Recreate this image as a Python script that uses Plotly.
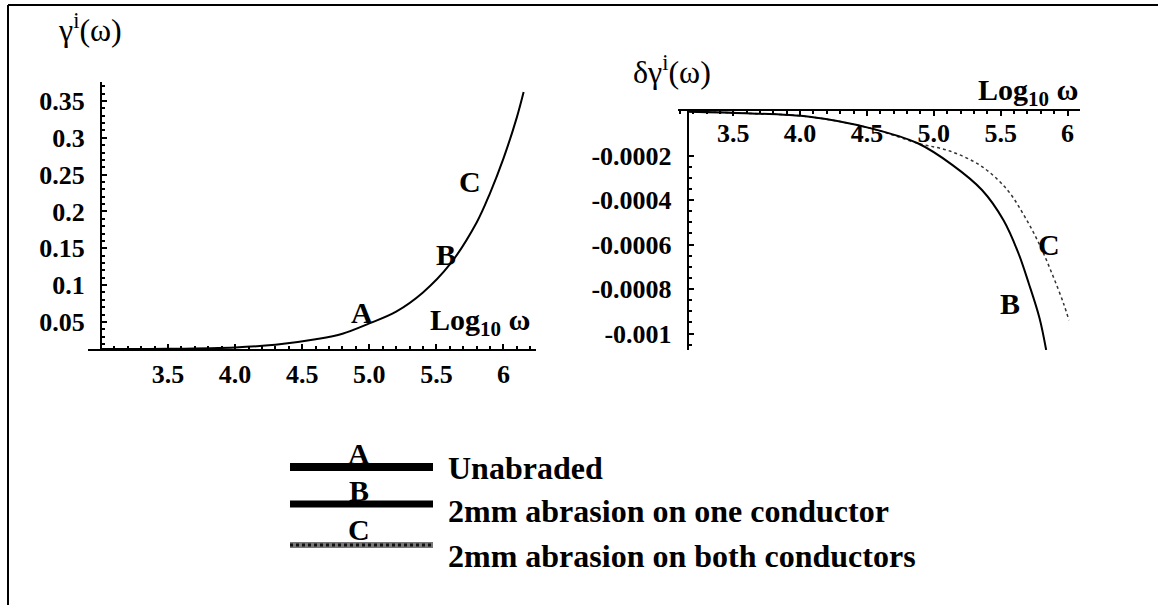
import plotly.graph_objects as go

# ---------------- data ----------------
# left panel: gamma^i(omega) vs log10(omega) (curves A, B, C coincide)
gam_x = [3.0, 3.5, 4.0, 4.3, 4.6, 4.8, 5.0, 5.2, 5.4, 5.6, 5.8, 5.9, 6.0, 6.1, 6.15]
gam_y = [0.0133, 0.0137, 0.0155, 0.019, 0.0265, 0.034, 0.048, 0.064, 0.090, 0.128, 0.185, 0.225, 0.272, 0.328, 0.362]

# right panel: delta gamma^i(omega), curve B (solid) and C (dotted)
dB_x = [3.17, 3.59, 4.07, 4.53, 4.88, 5.14, 5.36, 5.52, 5.63, 5.71, 5.79, 5.84]
dB_y = [-0.000003, -0.000010, -0.000026, -0.000078, -0.000145, -0.000243,
        -0.000355, -0.000490, -0.000635, -0.000775, -0.000930, -0.001074]
dC_x = [3.17, 3.59, 4.07, 4.53, 4.88, 5.12, 5.36, 5.55, 5.68, 5.79, 5.89, 5.97, 6.01]
dC_y = [-0.000003, -0.000010, -0.000026, -0.000078, -0.000145, -0.000180, -0.000250,
        -0.000355, -0.000475, -0.000600, -0.000740, -0.000865, -0.000940]

x_tickvals = [3.5, 4.0, 4.5, 5.0, 5.5, 6.0]
x_ticktext = ["3.5", "4.0", "4.5", "5.0", "5.5", "6"]
gam_tickvals = [0.05, 0.1, 0.15, 0.2, 0.25, 0.3, 0.35]
gam_ticktext = ["0.05", "0.1", "0.15", "0.2", "0.25", "0.3", "0.35"]
d_tickvals = [-0.0002, -0.0004, -0.0006, -0.0008, -0.001]
d_ticktext = ["-0.0002", "-0.0004", "-0.0006", "-0.0008", "-0.001"]

legend_letters = ["A", "B", "C"]
legend_labels = ["Unabraded", "2mm abrasion on one conductor", "2mm abrasion on both conductors"]

# ---------------- layout geometry ----------------
W, H = 1158, 605
L_xrange = [2.9, 6.24]
L_yrange = [0.0133, 0.3757]
L_origin_x = 3.0
R_xrange = [3.086, 6.09]
R_yrange = [-0.001074, 0.0]
R_origin_x = 3.16

def px(x):
    return x / W

def py(y):
    return 1 - y / H

L_xdom = [px(87.5), px(535.7)]
L_ydom = [py(349), py(82)]
R_xdom = [px(677.9), px(1079.6)]
R_ydom = [py(350), py(111)]

L_ypos = L_xdom[0] + (L_origin_x - L_xrange[0]) / (L_xrange[1] - L_xrange[0]) * (L_xdom[1] - L_xdom[0])
R_ypos = R_xdom[0] + (R_origin_x - R_xrange[0]) / (R_xrange[1] - R_xrange[0]) * (R_xdom[1] - R_xdom[0])

SERIF = "Liberation Serif"
tickfont = dict(family=SERIF, size=26, color="black", weight="bold")

fig = go.Figure()

fig.add_trace(go.Scatter(x=gam_x, y=gam_y, mode="lines", line=dict(color="black", width=2, shape="spline"),
                         xaxis="x", yaxis="y", showlegend=False, cliponaxis=False))
fig.add_trace(go.Scatter(x=dC_x, y=dC_y, mode="lines", line=dict(color="#333", width=1.5, dash="dot", shape="spline"),
                         xaxis="x2", yaxis="y2", showlegend=False))
fig.add_trace(go.Scatter(x=dB_x, y=dB_y, mode="lines", line=dict(color="black", width=2, shape="spline"),
                         xaxis="x2", yaxis="y2", showlegend=False))

common_x = dict(tickvals=x_tickvals, ticktext=x_ticktext, tickfont=tickfont, showgrid=False, zeroline=False,
                showline=True, linecolor="black", linewidth=2, ticks="inside", ticklen=5, tickcolor="black",
                tickwidth=1.5)

fig.update_layout(
    width=W, height=H, margin=dict(l=0, r=0, t=0, b=0),
    paper_bgcolor="white", plot_bgcolor="rgba(0,0,0,0)",
    xaxis=dict(domain=L_xdom, range=L_xrange, anchor="y", side="bottom", ticklabelstandoff=1,
               minor=dict(dtick=0.1, tick0=3.0, ticks="inside", ticklen=3, tickcolor="black"), **common_x),
    yaxis=dict(domain=L_ydom, range=L_yrange, anchor="free", position=L_ypos,
               tickvals=gam_tickvals, ticktext=gam_ticktext, tickfont=tickfont, showgrid=False, zeroline=False,
               showline=True, linecolor="black", linewidth=2, ticks="inside", ticklen=5, tickcolor="black",
               tickwidth=1.5, ticklabelstandoff=10,
               minor=dict(dtick=0.01, tick0=0, ticks="inside", ticklen=3, tickcolor="black")),
    xaxis2=dict(domain=R_xdom, range=R_xrange, anchor="y2", side="top", ticklabelposition="inside",
                ticklabelstandoff=10,
                minor=dict(dtick=0.1, tick0=3.0, ticks="inside", ticklen=3, tickcolor="black"), **common_x),
    yaxis2=dict(domain=R_ydom, range=R_yrange, anchor="free", position=R_ypos,
                tickvals=d_tickvals, ticktext=d_ticktext, tickfont=tickfont, showgrid=False, zeroline=False,
                showline=True, linecolor="black", linewidth=2, ticks="inside", ticklen=5, tickcolor="black",
                tickwidth=1.5, ticklabelstandoff=10,
                minor=dict(dtick=0.00005, tick0=0, ticks="inside", ticklen=3, tickcolor="black")),
)

letter_font = dict(family=SERIF, size=30, color="black", weight="bold")
legend_font = dict(family=SERIF, size=32, color="black", weight="bold")
title_font = dict(family=SERIF, size=32, color="black")

def A(x, y, text, font, xref="paper", yref="paper", xanchor="center", yanchor="middle"):
    return dict(x=x, y=y, xref=xref, yref=yref, text=text, showarrow=False, font=font,
                xanchor=xanchor, yanchor=yanchor)

ann = []
# curve labels (data coordinates)
ann += [
    A(4.945, 0.0622, "A", letter_font, "x", "y"),
    A(5.570, 0.1409, "B", letter_font, "x", "y"),
    A(5.749, 0.2400, "C", letter_font, "x", "y"),
    A(5.864, -0.000602, "C", letter_font, "x2", "y2"),
    A(5.572, -0.000863, "B", letter_font, "x2", "y2"),
]
# axis labels and titles (paper coordinates)
ann += [
    A(px(480), py(322), "Log<sub>10</sub> ω", letter_font),
    A(px(1028), py(92), "Log<sub>10</sub> ω", letter_font),
    A(px(90), py(28), "γ<sup>i</sup>(ω)", title_font),
    A(px(672), py(70), "δγ<sup>i</sup>(ω)", title_font),
]

# legend block
line_y = [467, 504, 545]
letter_y = [453, 490, 529]
text_y = [468, 511, 556]
shapes = []
for i in range(3):
    if i < 2:
        shapes.append(dict(type="line", xref="paper", yref="paper", x0=px(290), x1=px(433),
                           y0=py(line_y[i]), y1=py(line_y[i]), line=dict(color="black", width=8 - i)))
    else:
        shapes.append(dict(type="line", xref="paper", yref="paper", x0=px(290), x1=px(433),
                           y0=py(line_y[i]), y1=py(line_y[i]), line=dict(color="#777", width=6)))
        shapes.append(dict(type="line", xref="paper", yref="paper", x0=px(290), x1=px(433),
                           y0=py(line_y[i]), y1=py(line_y[i]), line=dict(color="#111", width=3, dash="dot")))
    ann.append(A(px(359), py(letter_y[i]), legend_letters[i], letter_font))
    ann.append(A(px(446), py(text_y[i]), legend_labels[i], legend_font, xanchor="left"))

# frame
shapes.append(dict(type="line", xref="paper", yref="paper", x0=px(8), x1=1, y0=py(5), y1=py(5),
                   line=dict(color="black", width=2)))
shapes.append(dict(type="line", xref="paper", yref="paper", x0=px(8), x1=px(8), y0=py(5), y1=0,
                   line=dict(color="black", width=2)))

fig.update_layout(annotations=ann, shapes=shapes)
fig.write_html(
    "out.html",
    config={"displayModeBar": False},
    post_script="document.body.style.margin='0px';document.body.style.overflow='hidden';"
                "document.documentElement.style.overflow='hidden';",
)
